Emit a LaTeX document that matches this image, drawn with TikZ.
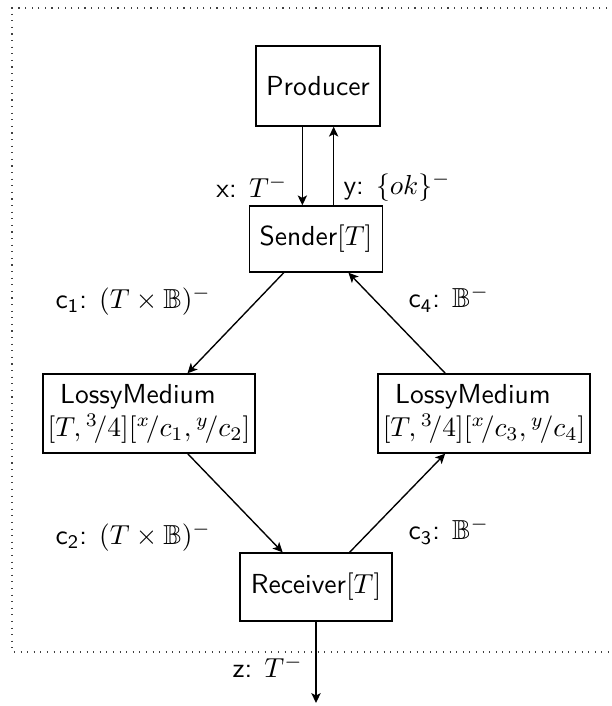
\documentclass[tikz,border=0pt]{standalone}
\usepackage{amssymb}
\usetikzlibrary{arrows.meta}
\newcommand\slfrac[2]{{}^{#1}\!/#2}
\tikzset{
  box/.style={draw, line width=0.5pt, inner sep=0pt, font=\sffamily},
  lbl/.style={inner sep=0pt, font=\sffamily},
  conn/.style={line width=0.5pt, -{Stealth[length=3.6pt, width=3.4pt, inset=0.9pt]}},
}
\begin{document}
\begin{tikzpicture}[x=0.3636pt, y=-0.3636pt]
\useasboundingbox (0,0) rectangle (611,706);
\draw[dotted, black!75] (640,8) -- (12,8) -- (12,652) -- (640,652);
\node[box, minimum width=45.1pt, minimum height=29.1pt] (P) at (318,86) {Producer};
\node[box, minimum width=48.4pt, minimum height=24.0pt] (S) at (316,239) {Sender$[T]$};
\node[box, minimum width=77.1pt, minimum height=28.7pt, align=left] (L1) at (149,413.5)
  {\hspace*{4.5pt}LossyMedium\\$[T,\slfrac{3}{4}][\slfrac{x}{c_1},\slfrac{y}{c_2}]$};
\node[box, minimum width=77.1pt, minimum height=28.7pt, align=left] (L2) at (484,413.5)
  {\hspace*{4.5pt}LossyMedium\\$[T,\slfrac{3}{4}][\slfrac{x}{c_3},\slfrac{y}{c_4}]$};
\node[box, minimum width=55.3pt, minimum height=24.7pt] (R) at (316,587) {Receiver$[T]$};
\coordinate (Z) at (316,703);

\draw[conn] ([xshift=-5.69pt]P.south) -- ([xshift=-5.69pt]P.south |- S.north);
\draw[conn] ([xshift=5.69pt]P.south |- S.north) -- ([xshift=5.69pt]P.south);
\draw[conn] (S) -- (L1);
\draw[conn] (L1) -- (R);
\draw[conn] (R) -- (L2);
\draw[conn] (L2) -- (S);
\draw[conn] (R) -- (Z);

\node[lbl, anchor=east] (lx) at (288,187) {x: $T^-$};
\node[lbl, anchor=west] (ly) at (343,187) {y: $\{ok\}^-$};
\node[lbl, anchor=west] (l1) at (55,301) {$\mathsf{c_1}$: $(T\times\mathbb{B})^-$};
\node[lbl, anchor=west] (l4) at (408,299) {$\mathsf{c_4}$: $\mathbb{B}^-$};
\node[lbl, anchor=west] (l2) at (55,537) {$\mathsf{c_2}$: $(T\times\mathbb{B})^-$};
\node[lbl, anchor=west] (l3) at (408,531) {$\mathsf{c_3}$: $\mathbb{B}^-$};
\node[lbl, anchor=west] (lz) at (232,667) {z: $T^-$};
\end{tikzpicture}
\end{document}
